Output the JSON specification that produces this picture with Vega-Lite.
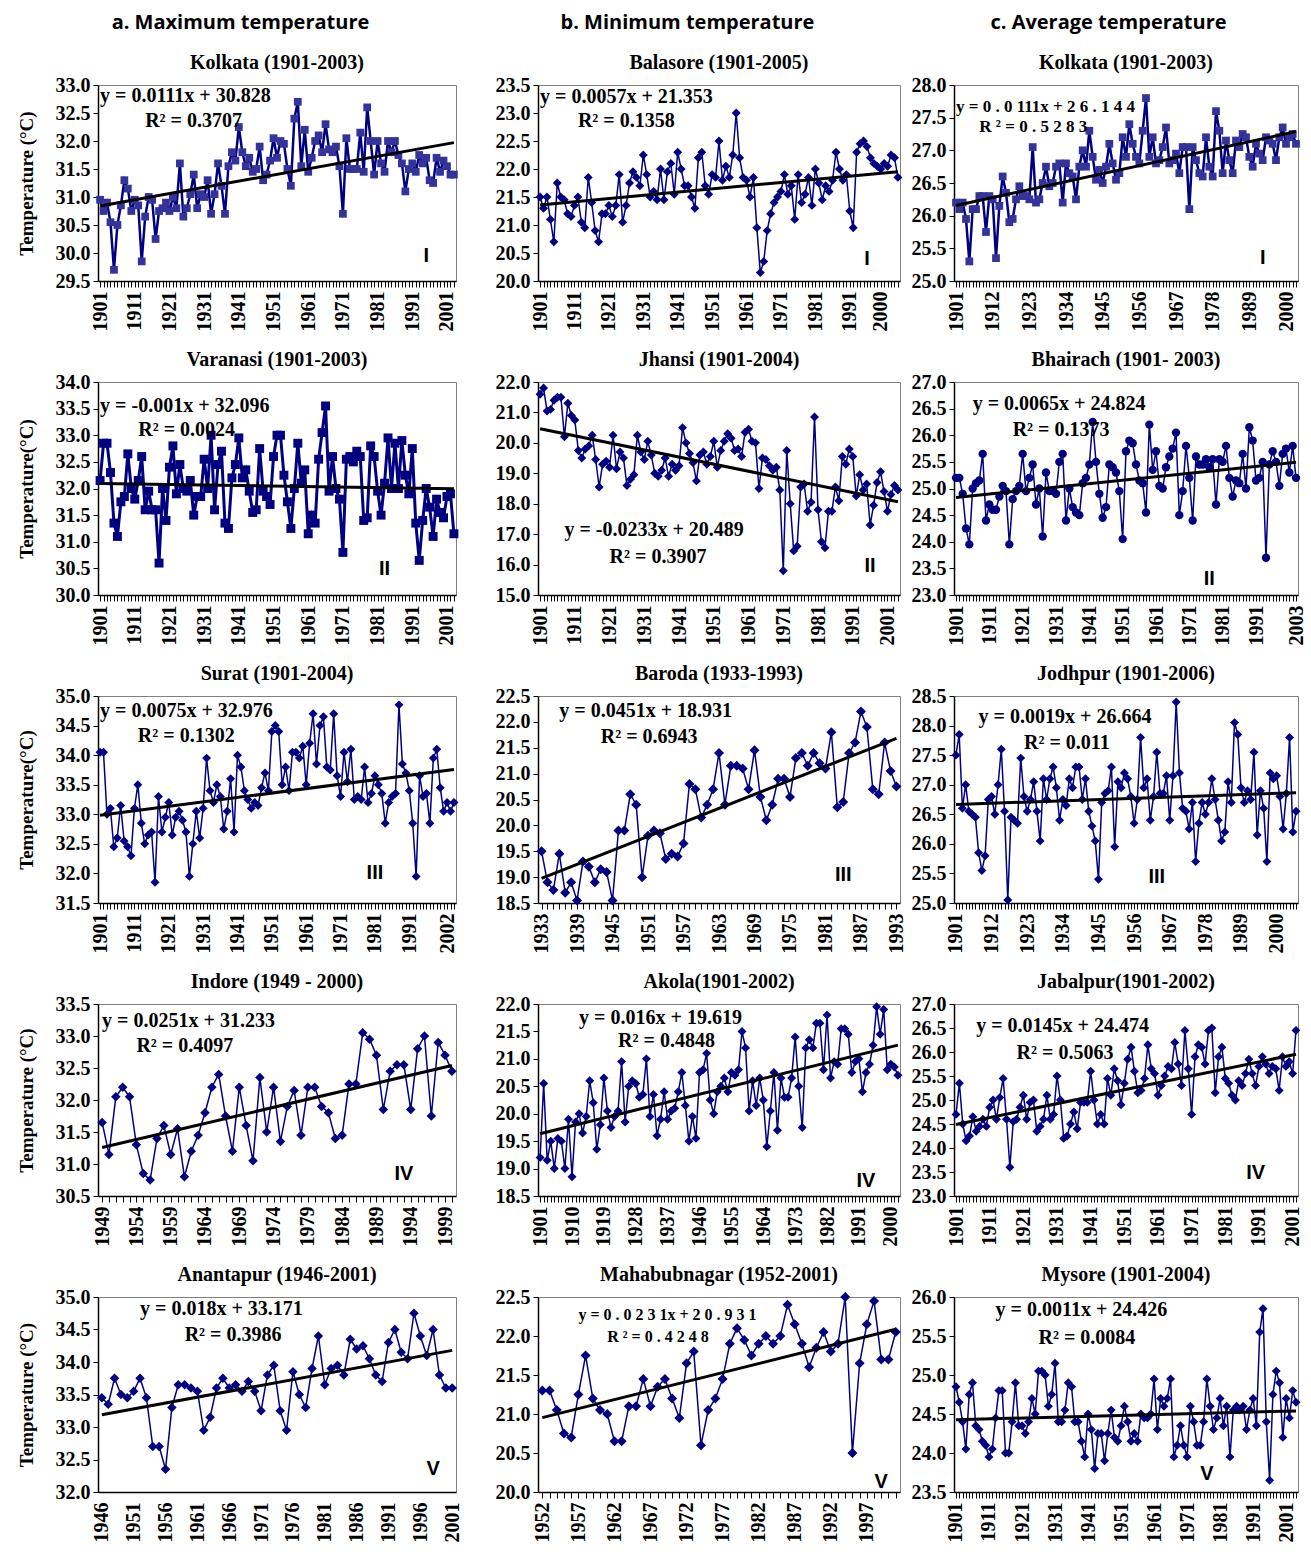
{
"$schema":"https://vega.github.io/schema/vega-lite/v6.json",
"background":"white",
"padding":{"left":16,"top":12,"right":2,"bottom":5},
"spacing":1,
"datasets":{
"A1":[{"x":1901,"v":30.95},{"x":1902,"v":30.75},{"x":1903,"v":30.9},{"x":1904,"v":30.55},{"x":1905,"v":29.7},{"x":1906,"v":30.5},{"x":1907,"v":30.85},{"x":1908,"v":31.3},{"x":1909,"v":31.15},{"x":1910,"v":30.75},
{"x":1911,"v":30.95},{"x":1912,"v":30.85},{"x":1913,"v":29.85},{"x":1914,"v":30.65},{"x":1915,"v":31.0},{"x":1916,"v":30.95},{"x":1917,"v":30.25},{"x":1918,"v":30.75},{"x":1919,"v":30.8},{"x":1920,"v":30.9},
{"x":1921,"v":30.75},{"x":1922,"v":31.0},{"x":1923,"v":30.8},{"x":1924,"v":31.6},{"x":1925,"v":30.65},{"x":1926,"v":30.8},{"x":1927,"v":31.05},{"x":1928,"v":31.4},{"x":1929,"v":30.8},{"x":1930,"v":31.05},
{"x":1931,"v":31.0},{"x":1932,"v":31.3},{"x":1933,"v":30.7},{"x":1934,"v":31.05},{"x":1935,"v":31.6},{"x":1936,"v":31.2},{"x":1937,"v":30.7},{"x":1938,"v":31.55},{"x":1939,"v":31.8},{"x":1940,"v":31.65},
{"x":1941,"v":32.25},{"x":1942,"v":31.8},{"x":1943,"v":31.55},{"x":1944,"v":31.7},{"x":1945,"v":31.45},{"x":1946,"v":31.5},{"x":1947,"v":31.9},{"x":1948,"v":31.3},{"x":1949,"v":31.4},{"x":1950,"v":31.65},
{"x":1951,"v":32.05},{"x":1952,"v":31.7},{"x":1953,"v":32.0},{"x":1954,"v":31.95},{"x":1955,"v":31.5},{"x":1956,"v":31.2},{"x":1957,"v":32.4},{"x":1958,"v":32.7},{"x":1959,"v":31.55},{"x":1960,"v":32.2},
{"x":1961,"v":31.45},{"x":1962,"v":31.7},{"x":1963,"v":32.0},{"x":1964,"v":32.1},{"x":1965,"v":31.8},{"x":1966,"v":32.3},{"x":1967,"v":31.85},{"x":1968,"v":31.8},{"x":1969,"v":31.9},{"x":1970,"v":31.55},
{"x":1971,"v":30.7},{"x":1972,"v":32.05},{"x":1973,"v":31.5},{"x":1974,"v":31.5},{"x":1975,"v":31.5},{"x":1976,"v":32.15},{"x":1977,"v":31.45},{"x":1978,"v":32.6},{"x":1979,"v":32.0},{"x":1980,"v":31.4},
{"x":1981,"v":32.0},{"x":1982,"v":31.6},{"x":1983,"v":31.45},{"x":1984,"v":32.0},{"x":1985,"v":31.8},{"x":1986,"v":32.0},{"x":1987,"v":31.75},{"x":1988,"v":31.6},{"x":1989,"v":31.1},{"x":1990,"v":31.5},
{"x":1991,"v":31.6},{"x":1992,"v":31.45},{"x":1993,"v":31.75},{"x":1994,"v":31.6},{"x":1995,"v":31.7},{"x":1996,"v":31.3},{"x":1997,"v":31.25},{"x":1998,"v":31.7},{"x":1999,"v":31.45},{"x":2000,"v":31.65},
{"x":2001,"v":31.55},{"x":2002,"v":31.4},{"x":2003,"v":31.4}],
"B1":[{"x":1901,"v":21.5},{"x":1902,"v":21.3},{"x":1903,"v":21.5},{"x":1904,"v":21.1},{"x":1905,"v":20.7},{"x":1906,"v":21.75},{"x":1907,"v":21.5},{"x":1908,"v":21.45},{"x":1909,"v":21.2},{"x":1910,"v":21.15},
{"x":1911,"v":21.35},{"x":1912,"v":21.5},{"x":1913,"v":21.05},{"x":1914,"v":20.95},{"x":1915,"v":21.85},{"x":1916,"v":21.4},{"x":1917,"v":20.9},{"x":1918,"v":20.7},{"x":1919,"v":21.2},{"x":1920,"v":21.2},
{"x":1921,"v":21.35},{"x":1922,"v":21.15},{"x":1923,"v":21.35},{"x":1924,"v":21.9},{"x":1925,"v":21.05},{"x":1926,"v":21.35},{"x":1927,"v":21.75},{"x":1928,"v":21.95},{"x":1929,"v":21.85},{"x":1930,"v":21.7},
{"x":1931,"v":22.25},{"x":1932,"v":21.9},{"x":1933,"v":21.5},{"x":1934,"v":21.6},{"x":1935,"v":21.45},{"x":1936,"v":22.0},{"x":1937,"v":21.45},{"x":1938,"v":21.95},{"x":1939,"v":22.1},{"x":1940,"v":21.55},
{"x":1941,"v":22.3},{"x":1942,"v":22.0},{"x":1943,"v":21.7},{"x":1944,"v":21.7},{"x":1945,"v":21.5},{"x":1946,"v":21.3},{"x":1947,"v":22.2},{"x":1948,"v":22.3},{"x":1949,"v":21.7},{"x":1950,"v":21.55},
{"x":1951,"v":21.9},{"x":1952,"v":21.85},{"x":1953,"v":22.5},{"x":1954,"v":21.8},{"x":1955,"v":22.05},{"x":1956,"v":21.85},{"x":1957,"v":22.25},{"x":1958,"v":23.0},{"x":1959,"v":22.2},{"x":1960,"v":21.85},
{"x":1961,"v":21.8},{"x":1962,"v":21.5},{"x":1963,"v":21.85},{"x":1964,"v":20.95},{"x":1965,"v":20.15},{"x":1966,"v":20.35},{"x":1967,"v":20.9},{"x":1968,"v":21.2},{"x":1969,"v":21.4},{"x":1970,"v":21.5},
{"x":1971,"v":21.6},{"x":1972,"v":21.9},{"x":1973,"v":21.55},{"x":1974,"v":21.7},{"x":1975,"v":21.1},{"x":1976,"v":21.9},{"x":1977,"v":21.4},{"x":1978,"v":21.55},{"x":1979,"v":21.85},{"x":1980,"v":21.35},
{"x":1981,"v":22.0},{"x":1982,"v":21.75},{"x":1983,"v":21.45},{"x":1984,"v":21.7},{"x":1985,"v":21.6},{"x":1986,"v":21.8},{"x":1987,"v":22.3},{"x":1988,"v":22.0},{"x":1989,"v":21.8},{"x":1990,"v":21.9},
{"x":1991,"v":21.25},{"x":1992,"v":20.95},{"x":1993,"v":22.3},{"x":1994,"v":22.45},{"x":1995,"v":22.5},{"x":1996,"v":22.4},{"x":1997,"v":22.2},{"x":1998,"v":22.1},{"x":1999,"v":22.05},{"x":2000,"v":22.0},
{"x":2001,"v":22.1},{"x":2002,"v":22.05},{"x":2003,"v":22.25},{"x":2004,"v":22.2},{"x":2005,"v":21.85}],
"C1":[{"x":1901,"v":26.2},{"x":1902,"v":26.1},{"x":1903,"v":26.2},{"x":1904,"v":25.95},{"x":1905,"v":25.3},{"x":1906,"v":26.1},{"x":1907,"v":26.1},{"x":1908,"v":26.3},{"x":1909,"v":26.3},{"x":1910,"v":25.75},
{"x":1911,"v":26.3},{"x":1912,"v":26.25},{"x":1913,"v":25.35},{"x":1914,"v":26.15},{"x":1915,"v":26.6},{"x":1916,"v":26.35},{"x":1917,"v":25.9},{"x":1918,"v":25.95},{"x":1919,"v":26.25},{"x":1920,"v":26.45},
{"x":1921,"v":26.3},{"x":1922,"v":26.3},{"x":1923,"v":26.25},{"x":1924,"v":27.05},{"x":1925,"v":26.2},{"x":1926,"v":26.25},{"x":1927,"v":26.5},{"x":1928,"v":26.75},{"x":1929,"v":26.45},{"x":1930,"v":26.5},
{"x":1931,"v":26.75},{"x":1932,"v":26.8},{"x":1933,"v":26.2},{"x":1934,"v":26.8},{"x":1935,"v":26.65},{"x":1936,"v":26.6},{"x":1937,"v":26.25},{"x":1938,"v":26.75},{"x":1939,"v":27.0},{"x":1940,"v":26.75},
{"x":1941,"v":27.3},{"x":1942,"v":26.9},{"x":1943,"v":26.55},{"x":1944,"v":26.7},{"x":1945,"v":26.5},{"x":1946,"v":26.75},{"x":1947,"v":27.1},{"x":1948,"v":26.8},{"x":1949,"v":26.55},{"x":1950,"v":26.65},
{"x":1951,"v":27.2},{"x":1952,"v":26.9},{"x":1953,"v":27.4},{"x":1954,"v":27.1},{"x":1955,"v":26.9},{"x":1956,"v":26.8},{"x":1957,"v":27.3},{"x":1958,"v":27.8},{"x":1959,"v":26.9},{"x":1960,"v":27.2},
{"x":1961,"v":26.8},{"x":1962,"v":26.85},{"x":1963,"v":27.05},{"x":1964,"v":27.35},{"x":1965,"v":26.8},{"x":1966,"v":26.85},{"x":1967,"v":26.95},{"x":1968,"v":26.65},{"x":1969,"v":27.05},{"x":1970,"v":27.05},
{"x":1971,"v":26.1},{"x":1972,"v":27.05},{"x":1973,"v":26.85},{"x":1974,"v":26.65},{"x":1975,"v":26.6},{"x":1976,"v":27.2},{"x":1977,"v":26.75},{"x":1978,"v":26.6},{"x":1979,"v":27.6},{"x":1980,"v":27.3},
{"x":1981,"v":26.65},{"x":1982,"v":27.15},{"x":1983,"v":26.85},{"x":1984,"v":26.65},{"x":1985,"v":27.15},{"x":1986,"v":27.05},{"x":1987,"v":27.25},{"x":1988,"v":27.2},{"x":1989,"v":26.9},{"x":1990,"v":26.75},
{"x":1991,"v":27.1},{"x":1992,"v":26.95},{"x":1993,"v":26.85},{"x":1994,"v":27.2},{"x":1995,"v":27.15},{"x":1996,"v":27.1},{"x":1997,"v":26.85},{"x":1998,"v":27.2},{"x":1999,"v":27.35},{"x":2000,"v":27.1},
{"x":2001,"v":27.2},{"x":2002,"v":27.25},{"x":2003,"v":27.1}],
"A2":[{"x":1901,"v":32.15},{"x":1902,"v":32.85},{"x":1903,"v":32.85},{"x":1904,"v":32.3},{"x":1905,"v":31.35},{"x":1906,"v":31.1},{"x":1907,"v":31.75},{"x":1908,"v":31.85},{"x":1909,"v":32.65},{"x":1910,"v":32.0},
{"x":1911,"v":31.8},{"x":1912,"v":32.15},{"x":1913,"v":32.6},{"x":1914,"v":31.6},{"x":1915,"v":31.95},{"x":1916,"v":31.6},{"x":1917,"v":31.6},{"x":1918,"v":30.6},{"x":1919,"v":32.0},{"x":1920,"v":31.4},
{"x":1921,"v":32.4},{"x":1922,"v":32.8},{"x":1923,"v":31.9},{"x":1924,"v":32.45},{"x":1925,"v":32.0},{"x":1926,"v":31.95},{"x":1927,"v":32.15},{"x":1928,"v":31.5},{"x":1929,"v":31.85},{"x":1930,"v":31.85},
{"x":1931,"v":32.55},{"x":1932,"v":32.0},{"x":1933,"v":33.0},{"x":1934,"v":31.6},{"x":1935,"v":32.45},{"x":1936,"v":32.7},{"x":1937,"v":31.35},{"x":1938,"v":31.25},{"x":1939,"v":32.2},{"x":1940,"v":32.45},
{"x":1941,"v":32.95},{"x":1942,"v":32.2},{"x":1943,"v":32.35},{"x":1944,"v":31.95},{"x":1945,"v":31.55},{"x":1946,"v":31.6},{"x":1947,"v":32.75},{"x":1948,"v":31.95},{"x":1949,"v":31.85},{"x":1950,"v":31.7},
{"x":1951,"v":32.6},{"x":1952,"v":33.0},{"x":1953,"v":33.0},{"x":1954,"v":32.25},{"x":1955,"v":31.75},{"x":1956,"v":31.25},{"x":1957,"v":32.0},{"x":1958,"v":32.85},{"x":1959,"v":32.1},{"x":1960,"v":32.35},
{"x":1961,"v":31.15},{"x":1962,"v":31.5},{"x":1963,"v":31.35},{"x":1964,"v":32.55},{"x":1965,"v":33.05},{"x":1966,"v":33.55},{"x":1967,"v":31.95},{"x":1968,"v":32.6},{"x":1969,"v":32.0},{"x":1970,"v":31.8},
{"x":1971,"v":30.8},{"x":1972,"v":32.55},{"x":1973,"v":32.6},{"x":1974,"v":32.5},{"x":1975,"v":32.7},{"x":1976,"v":32.6},{"x":1977,"v":31.4},{"x":1978,"v":31.45},{"x":1979,"v":32.8},{"x":1980,"v":32.6},
{"x":1981,"v":31.95},{"x":1982,"v":31.5},{"x":1983,"v":32.1},{"x":1984,"v":32.95},{"x":1985,"v":32.0},{"x":1986,"v":32.85},{"x":1987,"v":32.0},{"x":1988,"v":32.9},{"x":1989,"v":32.25},{"x":1990,"v":31.9},
{"x":1991,"v":32.75},{"x":1992,"v":31.35},{"x":1993,"v":30.65},{"x":1994,"v":31.4},{"x":1995,"v":32.0},{"x":1996,"v":31.65},{"x":1997,"v":31.1},{"x":1998,"v":31.8},{"x":1999,"v":31.55},{"x":2000,"v":31.45},
{"x":2001,"v":31.85},{"x":2002,"v":31.9},{"x":2003,"v":31.15}],
"B2":[{"x":1901,"v":21.6},{"x":1902,"v":21.8},{"x":1903,"v":21.05},{"x":1904,"v":21.1},{"x":1905,"v":21.4},{"x":1906,"v":21.5},{"x":1907,"v":21.5},{"x":1908,"v":20.2},{"x":1909,"v":21.3},{"x":1910,"v":20.9},
{"x":1911,"v":20.75},{"x":1912,"v":19.75},{"x":1913,"v":19.5},{"x":1914,"v":19.8},{"x":1915,"v":19.9},{"x":1916,"v":20.25},{"x":1917,"v":19.45},{"x":1918,"v":18.55},{"x":1919,"v":19.3},{"x":1920,"v":19.4},
{"x":1921,"v":19.2},{"x":1922,"v":20.25},{"x":1923,"v":19.15},{"x":1924,"v":19.7},{"x":1925,"v":19.5},{"x":1926,"v":18.6},{"x":1927,"v":18.8},{"x":1928,"v":18.95},{"x":1929,"v":20.25},{"x":1930,"v":19.7},
{"x":1931,"v":19.45},{"x":1932,"v":20.05},{"x":1933,"v":19.6},{"x":1934,"v":19.0},{"x":1935,"v":18.9},{"x":1936,"v":19.1},{"x":1937,"v":19.5},{"x":1938,"v":18.9},{"x":1939,"v":19.3},{"x":1940,"v":19.1},
{"x":1941,"v":19.25},{"x":1942,"v":20.5},{"x":1943,"v":20.0},{"x":1944,"v":19.65},{"x":1945,"v":19.35},{"x":1946,"v":18.75},{"x":1947,"v":19.6},{"x":1948,"v":19.7},{"x":1949,"v":19.3},{"x":1950,"v":19.55},
{"x":1951,"v":20.05},{"x":1952,"v":19.2},{"x":1953,"v":19.75},{"x":1954,"v":20.05},{"x":1955,"v":20.3},{"x":1956,"v":20.15},{"x":1957,"v":19.75},{"x":1958,"v":19.8},{"x":1959,"v":19.55},{"x":1960,"v":20.35},
{"x":1961,"v":20.45},{"x":1962,"v":20.05},{"x":1963,"v":20.0},{"x":1964,"v":18.5},{"x":1965,"v":19.5},{"x":1966,"v":19.45},{"x":1967,"v":19.25},{"x":1968,"v":19.1},{"x":1969,"v":19.2},{"x":1970,"v":18.45},
{"x":1971,"v":15.8},{"x":1972,"v":19.75},{"x":1973,"v":18.0},{"x":1974,"v":16.45},{"x":1975,"v":16.6},{"x":1976,"v":18.55},{"x":1977,"v":18.65},{"x":1978,"v":17.75},{"x":1979,"v":18.05},{"x":1980,"v":20.85},
{"x":1981,"v":17.8},{"x":1982,"v":16.75},{"x":1983,"v":16.55},{"x":1984,"v":17.75},{"x":1985,"v":17.75},{"x":1986,"v":18.55},{"x":1987,"v":18.1},{"x":1988,"v":19.55},{"x":1989,"v":19.3},{"x":1990,"v":19.8},
{"x":1991,"v":19.55},{"x":1992,"v":18.25},{"x":1993,"v":18.95},{"x":1994,"v":18.45},{"x":1995,"v":18.65},{"x":1996,"v":17.3},{"x":1997,"v":17.95},{"x":1998,"v":18.7},{"x":1999,"v":19.05},{"x":2000,"v":18.4},
{"x":2001,"v":17.75},{"x":2002,"v":18.3},{"x":2003,"v":18.6},{"x":2004,"v":18.45}],
"C2":[{"x":1901,"v":25.2},{"x":1902,"v":25.2},{"x":1903,"v":24.9},{"x":1904,"v":24.25},{"x":1905,"v":23.95},{"x":1906,"v":25.0},{"x":1907,"v":25.1},{"x":1908,"v":25.15},{"x":1909,"v":25.65},{"x":1910,"v":24.4},
{"x":1911,"v":24.7},{"x":1912,"v":24.6},{"x":1913,"v":24.6},{"x":1914,"v":24.85},{"x":1915,"v":25.05},{"x":1916,"v":24.95},{"x":1917,"v":23.95},{"x":1918,"v":24.8},{"x":1919,"v":24.95},{"x":1920,"v":25.05},
{"x":1921,"v":25.65},{"x":1922,"v":24.95},{"x":1923,"v":25.2},{"x":1924,"v":25.45},{"x":1925,"v":24.7},{"x":1926,"v":25.0},{"x":1927,"v":24.1},{"x":1928,"v":25.3},{"x":1929,"v":24.95},{"x":1930,"v":24.95},
{"x":1931,"v":24.9},{"x":1932,"v":25.5},{"x":1933,"v":25.65},{"x":1934,"v":24.4},{"x":1935,"v":25.0},{"x":1936,"v":24.65},{"x":1937,"v":24.55},{"x":1938,"v":24.5},{"x":1939,"v":25.1},{"x":1940,"v":25.2},
{"x":1941,"v":25.45},{"x":1942,"v":26.25},{"x":1943,"v":25.5},{"x":1944,"v":24.9},{"x":1945,"v":24.45},{"x":1946,"v":24.65},{"x":1947,"v":25.45},{"x":1948,"v":25.4},{"x":1949,"v":25.3},{"x":1950,"v":24.95},
{"x":1951,"v":24.05},{"x":1952,"v":25.7},{"x":1953,"v":25.9},{"x":1954,"v":25.85},{"x":1955,"v":25.45},{"x":1956,"v":25.15},{"x":1957,"v":25.1},{"x":1958,"v":24.55},{"x":1959,"v":26.2},{"x":1960,"v":25.35},
{"x":1961,"v":25.7},{"x":1962,"v":25.05},{"x":1963,"v":25.0},{"x":1964,"v":25.4},{"x":1965,"v":25.6},{"x":1966,"v":25.75},{"x":1967,"v":26.05},{"x":1968,"v":24.5},{"x":1969,"v":24.95},{"x":1970,"v":25.8},
{"x":1971,"v":25.2},{"x":1972,"v":24.4},{"x":1973,"v":25.6},{"x":1974,"v":25.45},{"x":1975,"v":25.45},{"x":1976,"v":25.55},{"x":1977,"v":25.4},{"x":1978,"v":25.55},{"x":1979,"v":24.7},{"x":1980,"v":25.55},
{"x":1981,"v":25.5},{"x":1982,"v":25.8},{"x":1983,"v":25.2},{"x":1984,"v":24.85},{"x":1985,"v":25.15},{"x":1986,"v":25.1},{"x":1987,"v":25.65},{"x":1988,"v":25.0},{"x":1989,"v":26.15},{"x":1990,"v":25.9},
{"x":1991,"v":25.15},{"x":1992,"v":25.2},{"x":1993,"v":25.5},{"x":1994,"v":23.7},{"x":1995,"v":25.45},{"x":1996,"v":25.7},{"x":1997,"v":25.5},{"x":1998,"v":25.05},{"x":1999,"v":25.65},{"x":2000,"v":25.75},
{"x":2001,"v":25.3},{"x":2002,"v":25.8},{"x":2003,"v":25.2}],
"A3":[{"x":1901,"v":34.05},{"x":1902,"v":34.05},{"x":1903,"v":33.0},{"x":1904,"v":33.1},{"x":1905,"v":32.45},{"x":1906,"v":32.6},{"x":1907,"v":33.15},{"x":1908,"v":32.55},{"x":1909,"v":32.45},{"x":1910,"v":32.3},
{"x":1911,"v":33.1},{"x":1912,"v":33.5},{"x":1913,"v":32.85},{"x":1914,"v":32.5},{"x":1915,"v":32.65},{"x":1916,"v":32.7},{"x":1917,"v":31.85},{"x":1918,"v":33.3},{"x":1919,"v":32.7},{"x":1920,"v":32.95},
{"x":1921,"v":33.2},{"x":1922,"v":32.65},{"x":1923,"v":32.95},{"x":1924,"v":33.05},{"x":1925,"v":32.9},{"x":1926,"v":32.7},{"x":1927,"v":31.95},{"x":1928,"v":32.5},{"x":1929,"v":33.05},{"x":1930,"v":32.6},
{"x":1931,"v":33.1},{"x":1932,"v":33.95},{"x":1933,"v":33.4},{"x":1934,"v":33.2},{"x":1935,"v":33.5},{"x":1936,"v":33.3},{"x":1937,"v":32.75},{"x":1938,"v":33.05},{"x":1939,"v":33.6},{"x":1940,"v":32.7},
{"x":1941,"v":34.0},{"x":1942,"v":33.8},{"x":1943,"v":33.4},{"x":1944,"v":33.25},{"x":1945,"v":33.1},{"x":1946,"v":33.2},{"x":1947,"v":33.15},{"x":1948,"v":33.45},{"x":1949,"v":33.7},{"x":1950,"v":33.4},
{"x":1951,"v":34.4},{"x":1952,"v":34.5},{"x":1953,"v":34.4},{"x":1954,"v":33.5},{"x":1955,"v":33.8},{"x":1956,"v":33.4},{"x":1957,"v":34.05},{"x":1958,"v":34.05},{"x":1959,"v":33.95},{"x":1960,"v":34.15},
{"x":1961,"v":33.5},{"x":1962,"v":34.2},{"x":1963,"v":34.7},{"x":1964,"v":33.85},{"x":1965,"v":34.5},{"x":1966,"v":34.65},{"x":1967,"v":33.8},{"x":1968,"v":33.75},{"x":1969,"v":34.7},{"x":1970,"v":33.65},
{"x":1971,"v":33.3},{"x":1972,"v":34.05},{"x":1973,"v":33.55},{"x":1974,"v":34.1},{"x":1975,"v":33.25},{"x":1976,"v":33.3},{"x":1977,"v":33.25},{"x":1978,"v":33.8},{"x":1979,"v":33.2},{"x":1980,"v":33.35},
{"x":1981,"v":33.65},{"x":1982,"v":33.5},{"x":1983,"v":33.35},{"x":1984,"v":32.85},{"x":1985,"v":33.2},{"x":1986,"v":33.3},{"x":1987,"v":33.35},{"x":1988,"v":34.85},{"x":1989,"v":33.85},{"x":1990,"v":33.7},
{"x":1991,"v":33.4},{"x":1992,"v":32.85},{"x":1993,"v":31.95},{"x":1994,"v":33.65},{"x":1995,"v":33.3},{"x":1996,"v":33.35},{"x":1997,"v":32.85},{"x":1998,"v":33.95},{"x":1999,"v":34.1},{"x":2000,"v":33.45},
{"x":2001,"v":33.05},{"x":2002,"v":33.2},{"x":2003,"v":33.05},{"x":2004,"v":33.2}],
"B3":[{"x":1933,"v":19.5},{"x":1934,"v":18.9},{"x":1935,"v":18.75},{"x":1936,"v":19.45},{"x":1937,"v":18.7},{"x":1938,"v":18.9},{"x":1939,"v":18.55},{"x":1940,"v":19.3},{"x":1941,"v":19.2},{"x":1942,"v":18.9},
{"x":1943,"v":19.15},{"x":1944,"v":19.1},{"x":1945,"v":18.55},{"x":1946,"v":19.9},{"x":1947,"v":19.9},{"x":1948,"v":20.6},{"x":1949,"v":20.4},{"x":1950,"v":19.0},{"x":1951,"v":19.8},{"x":1952,"v":19.9},
{"x":1953,"v":19.85},{"x":1954,"v":19.35},{"x":1955,"v":19.45},{"x":1956,"v":19.4},{"x":1957,"v":19.65},{"x":1958,"v":20.8},{"x":1959,"v":20.7},{"x":1960,"v":20.15},{"x":1961,"v":20.4},{"x":1962,"v":20.7},
{"x":1963,"v":21.4},{"x":1964,"v":20.4},{"x":1965,"v":21.15},{"x":1966,"v":21.15},{"x":1967,"v":21.1},{"x":1968,"v":20.7},{"x":1969,"v":21.45},{"x":1970,"v":20.55},{"x":1971,"v":20.1},{"x":1972,"v":20.4},
{"x":1973,"v":20.9},{"x":1974,"v":20.9},{"x":1975,"v":20.55},{"x":1976,"v":21.3},{"x":1977,"v":21.4},{"x":1978,"v":21.15},{"x":1979,"v":21.4},{"x":1980,"v":21.2},{"x":1981,"v":21.1},{"x":1982,"v":21.8},
{"x":1983,"v":20.35},{"x":1984,"v":20.45},{"x":1985,"v":21.4},{"x":1986,"v":21.6},{"x":1987,"v":22.2},{"x":1988,"v":21.9},{"x":1989,"v":20.7},{"x":1990,"v":20.6},{"x":1991,"v":21.6},{"x":1992,"v":21.05},{"x":1993,"v":20.75}],
"C3":[{"x":1901,"v":27.5},{"x":1902,"v":27.85},{"x":1903,"v":26.6},{"x":1904,"v":27.0},{"x":1905,"v":26.55},{"x":1906,"v":26.5},{"x":1907,"v":26.45},{"x":1908,"v":25.85},{"x":1909,"v":25.55},{"x":1910,"v":25.8},
{"x":1911,"v":26.75},{"x":1912,"v":26.8},{"x":1913,"v":26.5},{"x":1914,"v":27.0},{"x":1915,"v":27.6},{"x":1916,"v":26.55},{"x":1917,"v":25.05},{"x":1918,"v":26.45},{"x":1919,"v":26.4},{"x":1920,"v":26.35},
{"x":1921,"v":27.45},{"x":1922,"v":26.8},{"x":1923,"v":26.55},{"x":1924,"v":26.75},{"x":1925,"v":27.05},{"x":1926,"v":26.55},{"x":1927,"v":26.05},{"x":1928,"v":27.1},{"x":1929,"v":26.75},{"x":1930,"v":27.1},
{"x":1931,"v":27.3},{"x":1932,"v":26.95},{"x":1933,"v":26.4},{"x":1934,"v":26.75},{"x":1935,"v":26.65},{"x":1936,"v":27.1},{"x":1937,"v":26.95},{"x":1938,"v":27.3},{"x":1939,"v":27.3},{"x":1940,"v":26.75},
{"x":1941,"v":27.1},{"x":1942,"v":26.55},{"x":1943,"v":26.3},{"x":1944,"v":26.05},{"x":1945,"v":25.4},{"x":1946,"v":26.7},{"x":1947,"v":26.85},{"x":1948,"v":26.9},{"x":1949,"v":27.3},{"x":1950,"v":25.95},
{"x":1951,"v":27.05},{"x":1952,"v":26.95},{"x":1953,"v":27.2},{"x":1954,"v":27.1},{"x":1955,"v":26.8},{"x":1956,"v":26.35},{"x":1957,"v":26.75},{"x":1958,"v":27.8},{"x":1959,"v":26.95},{"x":1960,"v":27.1},
{"x":1961,"v":26.4},{"x":1962,"v":26.8},{"x":1963,"v":27.55},{"x":1964,"v":26.85},{"x":1965,"v":26.85},{"x":1966,"v":27.15},{"x":1967,"v":26.4},{"x":1968,"v":27.15},{"x":1969,"v":28.4},{"x":1970,"v":27.2},
{"x":1971,"v":26.6},{"x":1972,"v":26.55},{"x":1973,"v":26.25},{"x":1974,"v":26.7},{"x":1975,"v":25.7},{"x":1976,"v":26.35},{"x":1977,"v":26.7},{"x":1978,"v":26.5},{"x":1979,"v":26.7},{"x":1980,"v":27.1},
{"x":1981,"v":26.75},{"x":1982,"v":26.4},{"x":1983,"v":26.05},{"x":1984,"v":26.2},{"x":1985,"v":27.05},{"x":1986,"v":26.7},{"x":1987,"v":28.05},{"x":1988,"v":27.85},{"x":1989,"v":26.95},{"x":1990,"v":26.7},
{"x":1991,"v":26.9},{"x":1992,"v":26.75},{"x":1993,"v":27.55},{"x":1994,"v":26.15},{"x":1995,"v":26.9},{"x":1996,"v":26.6},{"x":1997,"v":25.7},{"x":1998,"v":27.2},{"x":1999,"v":27.1},{"x":2000,"v":27.15},
{"x":2001,"v":26.8},{"x":2002,"v":26.25},{"x":2003,"v":26.85},{"x":2004,"v":27.8},{"x":2005,"v":26.2},{"x":2006,"v":26.55}],
"A4":[{"x":1949,"v":31.65},{"x":1950,"v":31.15},{"x":1951,"v":32.05},{"x":1952,"v":32.2},{"x":1953,"v":32.05},{"x":1954,"v":31.3},{"x":1955,"v":30.85},{"x":1956,"v":30.75},{"x":1957,"v":31.4},{"x":1958,"v":31.6},
{"x":1959,"v":31.15},{"x":1960,"v":31.55},{"x":1961,"v":30.8},{"x":1962,"v":31.2},{"x":1963,"v":31.45},{"x":1964,"v":31.8},{"x":1965,"v":32.2},{"x":1966,"v":32.4},{"x":1967,"v":31.75},{"x":1968,"v":31.2},
{"x":1969,"v":32.2},{"x":1970,"v":31.6},{"x":1971,"v":31.05},{"x":1972,"v":32.35},{"x":1973,"v":31.5},{"x":1974,"v":32.2},{"x":1975,"v":31.35},{"x":1976,"v":31.9},{"x":1977,"v":32.15},{"x":1978,"v":31.45},
{"x":1979,"v":32.2},{"x":1980,"v":32.2},{"x":1981,"v":31.9},{"x":1982,"v":31.8},{"x":1983,"v":31.4},{"x":1984,"v":31.45},{"x":1985,"v":32.25},{"x":1986,"v":32.25},{"x":1987,"v":33.05},{"x":1988,"v":32.95},
{"x":1989,"v":32.7},{"x":1990,"v":31.85},{"x":1991,"v":32.45},{"x":1992,"v":32.55},{"x":1993,"v":32.55},{"x":1994,"v":31.85},{"x":1995,"v":32.8},{"x":1996,"v":33.0},{"x":1997,"v":31.75},{"x":1998,"v":32.9},
{"x":1999,"v":32.7},{"x":2000,"v":32.45}],
"B4":[{"x":1901,"v":19.2},{"x":1902,"v":20.55},{"x":1903,"v":19.15},{"x":1904,"v":19.5},{"x":1905,"v":19.0},{"x":1906,"v":19.55},{"x":1907,"v":19.5},{"x":1908,"v":19.0},{"x":1909,"v":19.9},{"x":1910,"v":18.85},
{"x":1911,"v":19.85},{"x":1912,"v":20.0},{"x":1913,"v":19.65},{"x":1914,"v":19.95},{"x":1915,"v":20.6},{"x":1916,"v":20.2},{"x":1917,"v":19.35},{"x":1918,"v":19.8},{"x":1919,"v":20.65},{"x":1920,"v":20.05},
{"x":1921,"v":19.75},{"x":1922,"v":19.95},{"x":1923,"v":20.05},{"x":1924,"v":20.95},{"x":1925,"v":19.85},{"x":1926,"v":20.5},{"x":1927,"v":20.6},{"x":1928,"v":20.55},{"x":1929,"v":20.3},{"x":1930,"v":20.35},
{"x":1931,"v":21.0},{"x":1932,"v":19.95},{"x":1933,"v":20.35},{"x":1934,"v":19.6},{"x":1935,"v":19.9},{"x":1936,"v":20.4},{"x":1937,"v":19.9},{"x":1938,"v":20.05},{"x":1939,"v":20.1},{"x":1940,"v":20.4},
{"x":1941,"v":20.75},{"x":1942,"v":20.15},{"x":1943,"v":19.5},{"x":1944,"v":19.95},{"x":1945,"v":19.55},{"x":1946,"v":20.75},{"x":1947,"v":20.8},{"x":1948,"v":21.1},{"x":1949,"v":20.25},{"x":1950,"v":20.0},
{"x":1951,"v":20.4},{"x":1952,"v":20.5},{"x":1953,"v":20.65},{"x":1954,"v":20.4},{"x":1955,"v":20.75},{"x":1956,"v":20.7},{"x":1957,"v":20.8},{"x":1958,"v":21.5},{"x":1959,"v":21.2},{"x":1960,"v":20.05},
{"x":1961,"v":20.6},{"x":1962,"v":20.15},{"x":1963,"v":20.65},{"x":1964,"v":20.25},{"x":1965,"v":19.4},{"x":1966,"v":20.05},{"x":1967,"v":20.75},{"x":1968,"v":19.7},{"x":1969,"v":20.65},{"x":1970,"v":20.3},
{"x":1971,"v":20.3},{"x":1972,"v":20.65},{"x":1973,"v":21.4},{"x":1974,"v":20.5},{"x":1975,"v":19.75},{"x":1976,"v":21.2},{"x":1977,"v":21.35},{"x":1978,"v":21.2},{"x":1979,"v":21.65},{"x":1980,"v":21.65},
{"x":1981,"v":20.8},{"x":1982,"v":21.8},{"x":1983,"v":20.65},{"x":1984,"v":20.95},{"x":1985,"v":20.9},{"x":1986,"v":21.55},{"x":1987,"v":21.55},{"x":1988,"v":21.45},{"x":1989,"v":20.75},{"x":1990,"v":20.95},
{"x":1991,"v":21.0},{"x":1992,"v":20.4},{"x":1993,"v":20.75},{"x":1994,"v":20.9},{"x":1995,"v":21.25},{"x":1996,"v":21.95},{"x":1997,"v":21.45},{"x":1998,"v":21.9},{"x":1999,"v":20.8},{"x":2000,"v":20.9},
{"x":2001,"v":20.85},{"x":2002,"v":20.7}],
"C4":[{"x":1901,"v":24.7},{"x":1902,"v":25.35},{"x":1903,"v":24.5},{"x":1904,"v":24.15},{"x":1905,"v":24.25},{"x":1906,"v":24.65},{"x":1907,"v":24.35},{"x":1908,"v":24.45},{"x":1909,"v":24.6},{"x":1910,"v":24.45},
{"x":1911,"v":24.85},{"x":1912,"v":25.0},{"x":1913,"v":24.6},{"x":1914,"v":25.05},{"x":1915,"v":25.45},{"x":1916,"v":24.6},{"x":1917,"v":23.6},{"x":1918,"v":24.55},{"x":1919,"v":24.6},{"x":1920,"v":24.85},
{"x":1921,"v":25.1},{"x":1922,"v":24.6},{"x":1923,"v":24.95},{"x":1924,"v":25.0},{"x":1925,"v":24.35},{"x":1926,"v":24.45},{"x":1927,"v":24.6},{"x":1928,"v":25.1},{"x":1929,"v":24.6},{"x":1930,"v":24.7},
{"x":1931,"v":25.5},{"x":1932,"v":25.0},{"x":1933,"v":24.2},{"x":1934,"v":24.25},{"x":1935,"v":24.5},{"x":1936,"v":24.75},{"x":1937,"v":24.4},{"x":1938,"v":24.95},{"x":1939,"v":24.95},{"x":1940,"v":24.95},
{"x":1941,"v":25.6},{"x":1942,"v":25.0},{"x":1943,"v":24.5},{"x":1944,"v":24.7},{"x":1945,"v":24.5},{"x":1946,"v":25.45},{"x":1947,"v":25.1},{"x":1948,"v":25.65},{"x":1949,"v":25.4},{"x":1950,"v":24.9},
{"x":1951,"v":25.35},{"x":1952,"v":25.85},{"x":1953,"v":26.1},{"x":1954,"v":25.6},{"x":1955,"v":25.15},{"x":1956,"v":25.2},{"x":1957,"v":25.45},{"x":1958,"v":26.15},{"x":1959,"v":25.65},{"x":1960,"v":25.55},
{"x":1961,"v":25.1},{"x":1962,"v":25.3},{"x":1963,"v":25.5},{"x":1964,"v":25.7},{"x":1965,"v":25.65},{"x":1966,"v":26.2},{"x":1967,"v":25.75},{"x":1968,"v":25.3},{"x":1969,"v":26.45},{"x":1970,"v":25.65},
{"x":1971,"v":24.7},{"x":1972,"v":25.9},{"x":1973,"v":26.15},{"x":1974,"v":26.1},{"x":1975,"v":25.75},{"x":1976,"v":26.45},{"x":1977,"v":26.5},{"x":1978,"v":25.15},{"x":1979,"v":25.9},{"x":1980,"v":26.1},
{"x":1981,"v":25.45},{"x":1982,"v":25.35},{"x":1983,"v":25.1},{"x":1984,"v":25.0},{"x":1985,"v":25.4},{"x":1986,"v":25.3},{"x":1987,"v":25.55},{"x":1988,"v":25.85},{"x":1989,"v":25.55},{"x":1990,"v":25.3},
{"x":1991,"v":25.7},{"x":1992,"v":25.9},{"x":1993,"v":25.75},{"x":1994,"v":25.55},{"x":1995,"v":25.7},{"x":1996,"v":25.65},{"x":1997,"v":25.2},{"x":1998,"v":25.9},{"x":1999,"v":25.7},{"x":2000,"v":25.8},
{"x":2001,"v":25.55},{"x":2002,"v":26.45}],
"A5":[{"x":1946,"v":33.45},{"x":1947,"v":33.35},{"x":1948,"v":33.75},{"x":1949,"v":33.5},{"x":1950,"v":33.45},{"x":1951,"v":33.55},{"x":1952,"v":33.75},{"x":1953,"v":33.45},{"x":1954,"v":32.7},{"x":1955,"v":32.7},{"x":1956,"v":32.35},
{"x":1957,"v":33.3},{"x":1958,"v":33.65},{"x":1959,"v":33.65},{"x":1960,"v":33.6},{"x":1961,"v":33.55},{"x":1962,"v":32.95},{"x":1963,"v":33.15},{"x":1964,"v":33.6},{"x":1965,"v":33.75},{"x":1966,"v":33.6},
{"x":1967,"v":33.65},{"x":1968,"v":33.55},{"x":1969,"v":33.7},{"x":1970,"v":33.55},{"x":1971,"v":33.25},{"x":1972,"v":33.8},{"x":1973,"v":33.95},{"x":1974,"v":33.25},{"x":1975,"v":32.95},{"x":1976,"v":33.85},
{"x":1977,"v":33.5},{"x":1978,"v":33.3},{"x":1979,"v":33.9},{"x":1980,"v":34.4},{"x":1981,"v":33.65},{"x":1982,"v":33.9},{"x":1983,"v":33.95},{"x":1984,"v":33.8},{"x":1985,"v":34.35},{"x":1986,"v":34.2},
{"x":1987,"v":34.25},{"x":1988,"v":34.05},{"x":1989,"v":33.8},{"x":1990,"v":33.7},{"x":1991,"v":34.3},{"x":1992,"v":34.5},{"x":1993,"v":34.15},{"x":1994,"v":34.05},
{"x":1995,"v":34.75},{"x":1996,"v":34.4},{"x":1997,"v":34.1},{"x":1998,"v":34.5},{"x":1999,"v":33.8},{"x":2000,"v":33.6},{"x":2001,"v":33.6}],
"B5":[{"x":1952,"v":21.3},{"x":1953,"v":21.3},{"x":1954,"v":21.05},{"x":1955,"v":20.75},{"x":1956,"v":20.7},{"x":1957,"v":21.25},{"x":1958,"v":21.75},{"x":1959,"v":21.2},{"x":1960,"v":21.05},{"x":1961,"v":21.0},
{"x":1962,"v":20.65},{"x":1963,"v":20.65},{"x":1964,"v":21.1},{"x":1965,"v":21.1},{"x":1966,"v":21.45},{"x":1967,"v":21.1},{"x":1968,"v":21.35},{"x":1969,"v":21.45},{"x":1970,"v":21.2},{"x":1971,"v":20.95},
{"x":1972,"v":21.65},{"x":1973,"v":21.8},{"x":1974,"v":20.6},{"x":1975,"v":21.05},{"x":1976,"v":21.2},{"x":1977,"v":21.45},{"x":1978,"v":21.9},{"x":1979,"v":22.1},{"x":1980,"v":21.95},{"x":1981,"v":21.75},
{"x":1982,"v":21.9},{"x":1983,"v":22.0},{"x":1984,"v":21.9},{"x":1985,"v":22.0},{"x":1986,"v":22.4},{"x":1987,"v":22.15},{"x":1988,"v":21.9},{"x":1989,"v":21.6},{"x":1990,"v":21.85},{"x":1991,"v":22.05},
{"x":1992,"v":21.8},{"x":1993,"v":21.9},{"x":1994,"v":22.5},{"x":1995,"v":20.5},{"x":1996,"v":21.65},{"x":1997,"v":22.15},{"x":1998,"v":22.45},{"x":1999,"v":21.7},{"x":2000,"v":21.7},{"x":2001,"v":22.05}],
"C5":[{"x":1901,"v":24.85},{"x":1902,"v":24.65},{"x":1903,"v":24.4},{"x":1904,"v":24.05},{"x":1905,"v":24.75},{"x":1906,"v":24.9},{"x":1907,"v":24.35},{"x":1908,"v":24.3},{"x":1909,"v":24.15},{"x":1910,"v":24.1},
{"x":1911,"v":23.95},{"x":1912,"v":24.05},{"x":1913,"v":24.45},{"x":1914,"v":24.8},{"x":1915,"v":24.8},{"x":1916,"v":24.0},{"x":1917,"v":24.0},{"x":1918,"v":24.4},{"x":1919,"v":24.9},{"x":1920,"v":24.35},
{"x":1921,"v":24.35},{"x":1922,"v":24.25},{"x":1923,"v":24.4},{"x":1924,"v":24.7},{"x":1925,"v":24.5},{"x":1926,"v":25.05},{"x":1927,"v":25.05},{"x":1928,"v":25.0},{"x":1929,"v":24.6},{"x":1930,"v":24.75},
{"x":1931,"v":25.15},{"x":1932,"v":24.4},{"x":1933,"v":24.4},{"x":1934,"v":24.55},{"x":1935,"v":24.9},{"x":1936,"v":24.85},{"x":1937,"v":24.4},{"x":1938,"v":24.4},{"x":1939,"v":24.15},{"x":1940,"v":23.95},
{"x":1941,"v":24.5},{"x":1942,"v":24.3},{"x":1943,"v":23.8},{"x":1944,"v":24.25},{"x":1945,"v":24.25},{"x":1946,"v":23.9},{"x":1947,"v":24.25},{"x":1948,"v":24.55},{"x":1949,"v":24.2},{"x":1950,"v":24.15},
{"x":1951,"v":24.35},{"x":1952,"v":24.6},{"x":1953,"v":24.4},{"x":1954,"v":24.15},{"x":1955,"v":24.25},{"x":1956,"v":24.15},{"x":1957,"v":24.5},{"x":1958,"v":24.45},{"x":1959,"v":24.45},{"x":1960,"v":24.5},
{"x":1961,"v":24.95},{"x":1962,"v":24.3},{"x":1963,"v":24.7},{"x":1964,"v":24.6},{"x":1965,"v":24.7},{"x":1966,"v":24.95},{"x":1967,"v":23.95},{"x":1968,"v":24.1},{"x":1969,"v":24.35},{"x":1970,"v":24.1},
{"x":1971,"v":23.95},{"x":1972,"v":24.6},{"x":1973,"v":24.4},{"x":1974,"v":24.1},{"x":1975,"v":24.1},{"x":1976,"v":24.4},{"x":1977,"v":24.95},{"x":1978,"v":24.6},{"x":1979,"v":24.3},{"x":1980,"v":24.45},
{"x":1981,"v":24.7},{"x":1982,"v":24.35},{"x":1983,"v":24.6},{"x":1984,"v":23.95},{"x":1985,"v":24.55},{"x":1986,"v":24.6},{"x":1987,"v":24.55},{"x":1988,"v":24.6},{"x":1989,"v":24.3},{"x":1990,"v":24.55},
{"x":1991,"v":24.7},{"x":1992,"v":24.35},{"x":1993,"v":25.55},{"x":1994,"v":25.85},{"x":1995,"v":24.4},{"x":1996,"v":23.65},{"x":1997,"v":24.75},{"x":1998,"v":25.05},{"x":1999,"v":24.9},{"x":2000,"v":24.2},
{"x":2001,"v":24.7},{"x":2002,"v":24.45},{"x":2003,"v":24.8},{"x":2004,"v":24.65}]
},
"hconcat":[
{"title":{"text":"a. Maximum temperature","font":"Open Sans","fontSize":20,"fontWeight":"bold","offset":20,"anchor":"middle"},
 "spacing":17,
 "vconcat":[
 {"width":358,"height":196,"title":"Kolkata (1901-2003)","data":{"name":"A1"},
  "encoding":{"x":{"field":"x","type":"ordinal","scale":{"type":"point","padding":0.6},"axis":{"title":null,"labelExpr":"indexof([1901,1911,1921,1931,1941,1951,1961,1971,1981,1991,2001],datum.value)>=0?datum.label:''"}},
   "y":{"field":"v","type":"quantitative","scale":{"domain":[29.5,33],"nice":false,"zero":false},"axis":{"title":"Temperature (°C)","values":[29.5,30,30.5,31,31.5,32,32.5,33],"format":".1f","titlePadding":14,"minExtent":48}}},
  "layer":[
   {"mark":{"type":"line","color":"#000080","strokeWidth":2.5},"encoding":{}},
   {"mark":{"type":"point","shape":"square","filled":true,"color":"#333399","opacity":1,"size":60}},
   {"data":{"values":[{"x":1901,"v":30.839},{"x":2003,"v":31.971}]},"mark":{"type":"line","color":"#000000","strokeWidth":3},"encoding":{}},
   {"data":{"values":[{"x":1901,"v":32.8,"t":"y = 0.0111x + 30.828"},{"x":1914,"v":32.36,"t":"R² = 0.3707"}]},"mark":{"type":"text","align":"left","baseline":"middle","font":"Liberation Serif","fontWeight":"bold","fontSize":20,"color":"#000000"},"encoding":{"text":{"field":"t"}}},
   {"data":{"values":[{"x":1995,"v":29.95,"t":"I"}]},"mark":{"type":"text","align":"center","baseline":"middle","font":"Liberation Sans","fontWeight":"bold","fontSize":20,"color":"#000000"},"encoding":{"text":{"field":"t"}}}
  ]},
 {"width":358,"height":213,"title":"Varanasi (1901-2003)","data":{"name":"A2"},
  "encoding":{"x":{"field":"x","type":"ordinal","scale":{"type":"point","padding":0.6},"axis":{"title":null,"labelExpr":"indexof([1901,1911,1921,1931,1941,1951,1961,1971,1981,1991,2001],datum.value)>=0?datum.label:''"}},
   "y":{"field":"v","type":"quantitative","scale":{"domain":[30,34],"nice":false,"zero":false},"axis":{"title":"Temperature(°C)","values":[30,30.5,31,31.5,32,32.5,33,33.5,34],"format":".1f","titlePadding":14,"minExtent":48}}},
  "layer":[
   {"mark":{"type":"line","color":"#000080","strokeWidth":3},"encoding":{}},
   {"mark":{"type":"point","shape":"square","filled":true,"color":"#000080","opacity":1,"size":80}},
   {"data":{"values":[{"x":1901,"v":32.095},{"x":2003,"v":31.993}]},"mark":{"type":"line","color":"#000000","strokeWidth":3},"encoding":{}},
   {"data":{"values":[{"x":1901,"v":33.54,"t":"y = -0.001x + 32.096"},{"x":1912,"v":33.1,"t":"R² = 0.0024"}]},"mark":{"type":"text","align":"left","baseline":"middle","font":"Liberation Serif","fontWeight":"bold","fontSize":20,"color":"#000000"},"encoding":{"text":{"field":"t"}}},
   {"data":{"values":[{"x":1983,"v":30.48,"t":"II"}]},"mark":{"type":"text","align":"center","baseline":"middle","font":"Liberation Sans","fontWeight":"bold","fontSize":20,"color":"#000000"},"encoding":{"text":{"field":"t"}}}
  ]},
 {"width":358,"height":207,"title":"Surat (1901-2004)","data":{"name":"A3"},
  "encoding":{"x":{"field":"x","type":"ordinal","scale":{"type":"point","padding":0.6},"axis":{"title":null,"labelExpr":"indexof([1901,1911,1921,1931,1941,1951,1961,1971,1981,1991,2002],datum.value)>=0?datum.label:''"}},
   "y":{"field":"v","type":"quantitative","scale":{"domain":[31.5,35],"nice":false,"zero":false},"axis":{"title":"Temperature(°C)","values":[31.5,32,32.5,33,33.5,34,34.5,35],"format":".1f","titlePadding":14,"minExtent":48}}},
  "layer":[
   {"mark":{"type":"line","color":"#000080","strokeWidth":1.5},"encoding":{}},
   {"mark":{"type":"point","shape":"diamond","filled":true,"color":"#000080","opacity":1,"size":80}},
   {"data":{"values":[{"x":1901,"v":32.984},{"x":2004,"v":33.756}]},"mark":{"type":"line","color":"#000000","strokeWidth":3},"encoding":{}},
   {"data":{"values":[{"x":1901,"v":34.75,"t":"y = 0.0075x + 32.976"},{"x":1912,"v":34.32,"t":"R² = 0.1302"}]},"mark":{"type":"text","align":"left","baseline":"middle","font":"Liberation Serif","fontWeight":"bold","fontSize":20,"color":"#000000"},"encoding":{"text":{"field":"t"}}},
   {"data":{"values":[{"x":1981,"v":32.0,"t":"III"}]},"mark":{"type":"text","align":"center","baseline":"middle","font":"Liberation Sans","fontWeight":"bold","fontSize":20,"color":"#000000"},"encoding":{"text":{"field":"t"}}}
  ]},
 {"width":358,"height":192,"title":"Indore (1949 - 2000)","data":{"name":"A4"},
  "encoding":{"x":{"field":"x","type":"ordinal","scale":{"type":"point","padding":0.6},"axis":{"title":null,"labelExpr":"indexof([1949,1954,1959,1964,1969,1974,1979,1984,1989,1994,1999],datum.value)>=0?datum.label:''"}},
   "y":{"field":"v","type":"quantitative","scale":{"domain":[30.5,33.5],"nice":false,"zero":false},"axis":{"title":"Temperature (°C)","values":[30.5,31,31.5,32,32.5,33,33.5],"format":".1f","titlePadding":14,"minExtent":48}}},
  "layer":[
   {"mark":{"type":"line","color":"#000080","strokeWidth":1.5},"encoding":{}},
   {"mark":{"type":"point","shape":"diamond","filled":true,"color":"#000080","opacity":1,"size":90}},
   {"data":{"values":[{"x":1949,"v":31.258},{"x":2000,"v":32.538}]},"mark":{"type":"line","color":"#000000","strokeWidth":3},"encoding":{}},
   {"data":{"values":[{"x":1949,"v":33.24,"t":"y = 0.0251x + 31.233"},{"x":1954,"v":32.84,"t":"R² = 0.4097"}]},"mark":{"type":"text","align":"left","baseline":"middle","font":"Liberation Serif","fontWeight":"bold","fontSize":20,"color":"#000000"},"encoding":{"text":{"field":"t"}}},
   {"data":{"values":[{"x":1993,"v":30.84,"t":"IV"}]},"mark":{"type":"text","align":"center","baseline":"middle","font":"Liberation Sans","fontWeight":"bold","fontSize":20,"color":"#000000"},"encoding":{"text":{"field":"t"}}}
  ]},
 {"width":358,"height":195,"title":"Anantapur (1946-2001)","data":{"name":"A5"},
  "encoding":{"x":{"field":"x","type":"ordinal","scale":{"type":"point","padding":0.6},"axis":{"title":null,"ticks":false,"labelPadding":10,"labelExpr":"indexof([1946,1951,1956,1961,1966,1971,1976,1981,1986,1991,1996,2001],datum.value)>=0?datum.label:''"}},
   "y":{"field":"v","type":"quantitative","scale":{"domain":[32,35],"nice":false,"zero":false},"axis":{"title":"Temperature (°C)","values":[32,32.5,33,33.5,34,34.5,35],"format":".1f","titlePadding":14,"minExtent":48}}},
  "layer":[
   {"mark":{"type":"line","color":"#000080","strokeWidth":1.5},"encoding":{}},
   {"mark":{"type":"point","shape":"diamond","filled":true,"color":"#000080","opacity":1,"size":90}},
   {"data":{"values":[{"x":1946,"v":33.189},{"x":2001,"v":34.179}]},"mark":{"type":"line","color":"#000000","strokeWidth":3},"encoding":{}},
   {"data":{"values":[{"x":1952,"v":34.82,"t":"y = 0.018x + 33.171"},{"x":1959,"v":34.42,"t":"R² = 0.3986"}]},"mark":{"type":"text","align":"left","baseline":"middle","font":"Liberation Serif","fontWeight":"bold","fontSize":20,"color":"#000000"},"encoding":{"text":{"field":"t"}}},
   {"data":{"values":[{"x":1998,"v":32.35,"t":"V"}]},"mark":{"type":"text","align":"center","baseline":"middle","font":"Liberation Sans","fontWeight":"bold","fontSize":20,"color":"#000000"},"encoding":{"text":{"field":"t"}}}
  ]}
 ]},
{"title":{"text":"b. Minimum temperature","font":"Open Sans","fontSize":20,"fontWeight":"bold","offset":20,"anchor":"middle"},
 "spacing":17,
 "vconcat":[
 {"width":362,"height":196,"title":"Balasore (1901-2005)","data":{"name":"B1"},
  "encoding":{"x":{"field":"x","type":"ordinal","scale":{"type":"point","padding":0.6},"axis":{"title":null,"labelExpr":"indexof([1901,1911,1921,1931,1941,1951,1961,1971,1981,1991,2000],datum.value)>=0?datum.label:''"}},
   "y":{"field":"v","type":"quantitative","scale":{"domain":[20,23.5],"nice":false,"zero":false},"axis":{"title":null,"values":[20,20.5,21,21.5,22,22.5,23,23.5],"format":".1f","minExtent":71}}},
  "layer":[
   {"mark":{"type":"line","color":"#000080","strokeWidth":1.5},"encoding":{}},
   {"mark":{"type":"point","shape":"diamond","filled":true,"color":"#000080","opacity":1,"size":80}},
   {"data":{"values":[{"x":1901,"v":21.359},{"x":2005,"v":21.952}]},"mark":{"type":"line","color":"#000000","strokeWidth":3},"encoding":{}},
   {"data":{"values":[{"x":1901,"v":23.29,"t":"y = 0.0057x + 21.353"},{"x":1912,"v":22.85,"t":"R² = 0.1358"}]},"mark":{"type":"text","align":"left","baseline":"middle","font":"Liberation Serif","fontWeight":"bold","fontSize":20,"color":"#000000"},"encoding":{"text":{"field":"t"}}},
   {"data":{"values":[{"x":1996,"v":20.4,"t":"I"}]},"mark":{"type":"text","align":"center","baseline":"middle","font":"Liberation Sans","fontWeight":"bold","fontSize":20,"color":"#000000"},"encoding":{"text":{"field":"t"}}}
  ]},
 {"width":362,"height":213,"title":"Jhansi (1901-2004)","data":{"name":"B2"},
  "encoding":{"x":{"field":"x","type":"ordinal","scale":{"type":"point","padding":0.6},"axis":{"title":null,"labelExpr":"indexof([1901,1911,1921,1931,1941,1951,1961,1971,1981,1991,2001],datum.value)>=0?datum.label:''"}},
   "y":{"field":"v","type":"quantitative","scale":{"domain":[15,22],"nice":false,"zero":false},"axis":{"title":null,"values":[15,16,17,18,19,20,21,22],"format":".1f","minExtent":71}}},
  "layer":[
   {"mark":{"type":"line","color":"#000080","strokeWidth":1.5},"encoding":{}},
   {"mark":{"type":"point","shape":"diamond","filled":true,"color":"#000080","opacity":1,"size":80}},
   {"data":{"values":[{"x":1901,"v":20.466},{"x":2004,"v":18.066}]},"mark":{"type":"line","color":"#000000","strokeWidth":3},"encoding":{}},
   {"data":{"values":[{"x":1908,"v":17.13,"t":"y = -0.0233x + 20.489"},{"x":1921,"v":16.24,"t":"R² = 0.3907"}]},"mark":{"type":"text","align":"left","baseline":"middle","font":"Liberation Serif","fontWeight":"bold","fontSize":20,"color":"#000000"},"encoding":{"text":{"field":"t"}}},
   {"data":{"values":[{"x":1996,"v":15.96,"t":"II"}]},"mark":{"type":"text","align":"center","baseline":"middle","font":"Liberation Sans","fontWeight":"bold","fontSize":20,"color":"#000000"},"encoding":{"text":{"field":"t"}}}
  ]},
 {"width":362,"height":207,"title":"Baroda (1933-1993)","data":{"name":"B3"},
  "encoding":{"x":{"field":"x","type":"ordinal","scale":{"type":"point","padding":0.6},"axis":{"title":null,"labelExpr":"indexof([1933,1939,1945,1951,1957,1963,1969,1975,1981,1987,1993],datum.value)>=0?datum.label:''"}},
   "y":{"field":"v","type":"quantitative","scale":{"domain":[18.5,22.5],"nice":false,"zero":false},"axis":{"title":null,"values":[18.5,19,19.5,20,20.5,21,21.5,22,22.5],"format":".1f","minExtent":71}}},
  "layer":[
   {"mark":{"type":"line","color":"#000080","strokeWidth":1.5},"encoding":{}},
   {"mark":{"type":"point","shape":"diamond","filled":true,"color":"#000080","opacity":1,"size":100}},
   {"data":{"values":[{"x":1933,"v":18.976},{"x":1993,"v":21.682}]},"mark":{"type":"line","color":"#000000","strokeWidth":3},"encoding":{}},
   {"data":{"values":[{"x":1936,"v":22.21,"t":"y = 0.0451x + 18.931"},{"x":1943,"v":21.7,"t":"R² = 0.6943"}]},"mark":{"type":"text","align":"left","baseline":"middle","font":"Liberation Serif","fontWeight":"bold","fontSize":20,"color":"#000000"},"encoding":{"text":{"field":"t"}}},
   {"data":{"values":[{"x":1984,"v":19.04,"t":"III"}]},"mark":{"type":"text","align":"center","baseline":"middle","font":"Liberation Sans","fontWeight":"bold","fontSize":20,"color":"#000000"},"encoding":{"text":{"field":"t"}}}
  ]},
 {"width":362,"height":192,"title":"Akola(1901-2002)","data":{"name":"B4"},
  "encoding":{"x":{"field":"x","type":"ordinal","scale":{"type":"point","padding":0.6},"axis":{"title":null,"labelExpr":"indexof([1901,1910,1919,1928,1937,1946,1955,1964,1973,1982,1991,2000],datum.value)>=0?datum.label:''"}},
   "y":{"field":"v","type":"quantitative","scale":{"domain":[18.5,22],"nice":false,"zero":false},"axis":{"title":null,"values":[18.5,19,19.5,20,20.5,21,21.5,22],"format":".1f","minExtent":71}}},
  "layer":[
   {"mark":{"type":"line","color":"#000080","strokeWidth":1.5},"encoding":{}},
   {"mark":{"type":"point","shape":"diamond","filled":true,"color":"#000080","opacity":1,"size":80}},
   {"data":{"values":[{"x":1901,"v":19.635},{"x":2002,"v":21.251}]},"mark":{"type":"line","color":"#000000","strokeWidth":3},"encoding":{}},
   {"data":{"values":[{"x":1912,"v":21.75,"t":"y = 0.016x + 19.619"},{"x":1923,"v":21.32,"t":"R² = 0.4848"}]},"mark":{"type":"text","align":"left","baseline":"middle","font":"Liberation Serif","fontWeight":"bold","fontSize":20,"color":"#000000"},"encoding":{"text":{"field":"t"}}},
   {"data":{"values":[{"x":1993,"v":18.77,"t":"IV"}]},"mark":{"type":"text","align":"center","baseline":"middle","font":"Liberation Sans","fontWeight":"bold","fontSize":20,"color":"#000000"},"encoding":{"text":{"field":"t"}}}
  ]},
 {"width":362,"height":195,"title":"Mahabubnagar (1952-2001)","data":{"name":"B5"},
  "encoding":{"x":{"field":"x","type":"ordinal","scale":{"type":"point","padding":0.6},"axis":{"title":null,"labelExpr":"indexof([1952,1957,1962,1967,1972,1977,1982,1987,1992,1997],datum.value)>=0?datum.label:''"}},
   "y":{"field":"v","type":"quantitative","scale":{"domain":[20,22.5],"nice":false,"zero":false},"axis":{"title":null,"values":[20,20.5,21,21.5,22,22.5],"format":".1f","minExtent":71}}},
  "layer":[
   {"mark":{"type":"line","color":"#000080","strokeWidth":1.5},"encoding":{}},
   {"mark":{"type":"point","shape":"diamond","filled":true,"color":"#000080","opacity":1,"size":100}},
   {"data":{"values":[{"x":1952,"v":20.954},{"x":2001,"v":22.086}]},"mark":{"type":"line","color":"#000000","strokeWidth":3},"encoding":{}},
   {"data":{"values":[{"x":1957,"v":22.27,"t":"y = 0 . 0 2 3 1x + 2 0 . 9 3 1"},{"x":1961,"v":21.99,"t":"R ² = 0 . 4 2 4 8"}]},"mark":{"type":"text","align":"left","baseline":"middle","font":"Liberation Serif","fontWeight":"bold","fontSize":16,"color":"#000000"},"encoding":{"text":{"field":"t"}}},
   {"data":{"values":[{"x":1999,"v":20.13,"t":"V"}]},"mark":{"type":"text","align":"center","baseline":"middle","font":"Liberation Sans","fontWeight":"bold","fontSize":20,"color":"#000000"},"encoding":{"text":{"field":"t"}}}
  ]}
 ]},
{"title":{"text":"c. Average temperature","font":"Open Sans","fontSize":20,"fontWeight":"bold","offset":20,"anchor":"middle"},
 "spacing":17,
 "vconcat":[
 {"width":344,"height":196,"title":"Kolkata (1901-2003)","data":{"name":"C1"},
  "encoding":{"x":{"field":"x","type":"ordinal","scale":{"type":"point","padding":0.6},"axis":{"title":null,"labelExpr":"indexof([1901,1912,1923,1934,1945,1956,1967,1978,1989,2000],datum.value)>=0?datum.label:''"}},
   "y":{"field":"v","type":"quantitative","scale":{"domain":[25,28],"nice":false,"zero":false},"axis":{"title":null,"values":[25,25.5,26,26.5,27,27.5,28],"format":".1f"}}},
  "layer":[
   {"mark":{"type":"line","color":"#000080","strokeWidth":2.5},"encoding":{}},
   {"mark":{"type":"point","shape":"square","filled":true,"color":"#333399","opacity":1,"size":60}},
   {"data":{"values":[{"x":1901,"v":26.155},{"x":2003,"v":27.287}]},"mark":{"type":"line","color":"#000000","strokeWidth":3},"encoding":{}},
   {"data":{"values":[{"x":1901,"v":27.67,"t":"y = 0 . 0 111x + 2 6 . 1 4 4"},{"x":1908,"v":27.35,"t":"R ² = 0 . 5 2 8 3"}]},"mark":{"type":"text","align":"left","baseline":"middle","font":"Liberation Serif","fontWeight":"bold","fontSize":17,"color":"#000000"},"encoding":{"text":{"field":"t"}}},
   {"data":{"values":[{"x":1993,"v":25.35,"t":"I"}]},"mark":{"type":"text","align":"center","baseline":"middle","font":"Liberation Sans","fontWeight":"bold","fontSize":20,"color":"#000000"},"encoding":{"text":{"field":"t"}}}
  ]},
 {"width":344,"height":213,"title":"Bhairach (1901- 2003)","data":{"name":"C2"},
  "encoding":{"x":{"field":"x","type":"ordinal","scale":{"type":"point","padding":0.6},"axis":{"title":null,"labelExpr":"indexof([1901,1911,1921,1931,1941,1951,1961,1971,1981,1991,2003],datum.value)>=0?datum.label:''"}},
   "y":{"field":"v","type":"quantitative","scale":{"domain":[23,27],"nice":false,"zero":false},"axis":{"title":null,"values":[23,23.5,24,24.5,25,25.5,26,26.5,27],"format":".1f"}}},
  "layer":[
   {"mark":{"type":"line","color":"#000080","strokeWidth":1.5},"encoding":{}},
   {"mark":{"type":"point","shape":"circle","filled":true,"color":"#000080","opacity":1,"size":70}},
   {"data":{"values":[{"x":1901,"v":24.831},{"x":2003,"v":25.494}]},"mark":{"type":"line","color":"#000000","strokeWidth":3},"encoding":{}},
   {"data":{"values":[{"x":1906,"v":26.58,"t":"y = 0.0065x + 24.824"},{"x":1918,"v":26.09,"t":"R² = 0.1373"}]},"mark":{"type":"text","align":"left","baseline":"middle","font":"Liberation Serif","fontWeight":"bold","fontSize":20,"color":"#000000"},"encoding":{"text":{"field":"t"}}},
   {"data":{"values":[{"x":1977,"v":23.3,"t":"II"}]},"mark":{"type":"text","align":"center","baseline":"middle","font":"Liberation Sans","fontWeight":"bold","fontSize":20,"color":"#000000"},"encoding":{"text":{"field":"t"}}}
  ]},
 {"width":344,"height":207,"title":"Jodhpur (1901-2006)","data":{"name":"C3"},
  "encoding":{"x":{"field":"x","type":"ordinal","scale":{"type":"point","padding":0.6},"axis":{"title":null,"labelExpr":"indexof([1901,1912,1923,1934,1945,1956,1967,1978,1989,2000],datum.value)>=0?datum.label:''"}},
   "y":{"field":"v","type":"quantitative","scale":{"domain":[25,28.5],"nice":false,"zero":false},"axis":{"title":null,"values":[25,25.5,26,26.5,27,27.5,28,28.5],"format":".1f"}}},
  "layer":[
   {"mark":{"type":"line","color":"#000080","strokeWidth":1.5},"encoding":{}},
   {"mark":{"type":"point","shape":"diamond","filled":true,"color":"#000080","opacity":1,"size":80}},
   {"data":{"values":[{"x":1901,"v":26.666},{"x":2006,"v":26.865}]},"mark":{"type":"line","color":"#000000","strokeWidth":3},"encoding":{}},
   {"data":{"values":[{"x":1908,"v":28.14,"t":"y = 0.0019x + 26.664"},{"x":1922,"v":27.71,"t":"R² = 0.011"}]},"mark":{"type":"text","align":"left","baseline":"middle","font":"Liberation Serif","fontWeight":"bold","fontSize":20,"color":"#000000"},"encoding":{"text":{"field":"t"}}},
   {"data":{"values":[{"x":1963,"v":25.44,"t":"III"}]},"mark":{"type":"text","align":"center","baseline":"middle","font":"Liberation Sans","fontWeight":"bold","fontSize":20,"color":"#000000"},"encoding":{"text":{"field":"t"}}}
  ]},
 {"width":344,"height":192,"title":"Jabalpur(1901-2002)","data":{"name":"C4"},
  "encoding":{"x":{"field":"x","type":"ordinal","scale":{"type":"point","padding":0.6},"axis":{"title":null,"labelExpr":"indexof([1901,1911,1921,1931,1941,1951,1961,1971,1981,1991,2001],datum.value)>=0?datum.label:''"}},
   "y":{"field":"v","type":"quantitative","scale":{"domain":[23,27],"nice":false,"zero":false},"axis":{"title":null,"values":[23,23.5,24,24.5,25,25.5,26,26.5,27],"format":".1f"}}},
  "layer":[
   {"mark":{"type":"line","color":"#000080","strokeWidth":1.5},"encoding":{}},
   {"mark":{"type":"point","shape":"diamond","filled":true,"color":"#000080","opacity":1,"size":80}},
   {"data":{"values":[{"x":1901,"v":24.489},{"x":2002,"v":25.953}]},"mark":{"type":"line","color":"#000000","strokeWidth":3},"encoding":{}},
   {"data":{"values":[{"x":1907,"v":26.55,"t":"y = 0.0145x + 24.474"},{"x":1919,"v":25.98,"t":"R² = 0.5063"}]},"mark":{"type":"text","align":"left","baseline":"middle","font":"Liberation Serif","fontWeight":"bold","fontSize":20,"color":"#000000"},"encoding":{"text":{"field":"t"}}},
   {"data":{"values":[{"x":1990,"v":23.48,"t":"IV"}]},"mark":{"type":"text","align":"center","baseline":"middle","font":"Liberation Sans","fontWeight":"bold","fontSize":20,"color":"#000000"},"encoding":{"text":{"field":"t"}}}
  ]},
 {"width":344,"height":195,"title":"Mysore (1901-2004)","data":{"name":"C5"},
  "encoding":{"x":{"field":"x","type":"ordinal","scale":{"type":"point","padding":0.6},"axis":{"title":null,"labelExpr":"indexof([1901,1911,1921,1931,1941,1951,1961,1971,1981,1991,2001],datum.value)>=0?datum.label:''"}},
   "y":{"field":"v","type":"quantitative","scale":{"domain":[23.5,26],"nice":false,"zero":false},"axis":{"title":null,"values":[23.5,24,24.5,25,25.5,26],"format":".1f"}}},
  "layer":[
   {"mark":{"type":"line","color":"#000080","strokeWidth":1.5},"encoding":{}},
   {"mark":{"type":"point","shape":"diamond","filled":true,"color":"#000080","opacity":1,"size":80}},
   {"data":{"values":[{"x":1901,"v":24.427},{"x":2004,"v":24.54}]},"mark":{"type":"line","color":"#000000","strokeWidth":3},"encoding":{}},
   {"data":{"values":[{"x":1913,"v":25.83,"t":"y = 0.0011x + 24.426"},{"x":1926,"v":25.48,"t":"R² = 0.0084"}]},"mark":{"type":"text","align":"left","baseline":"middle","font":"Liberation Serif","fontWeight":"bold","fontSize":20,"color":"#000000"},"encoding":{"text":{"field":"t"}}},
   {"data":{"values":[{"x":1977,"v":23.73,"t":"V"}]},"mark":{"type":"text","align":"center","baseline":"middle","font":"Liberation Sans","fontWeight":"bold","fontSize":20,"color":"#000000"},"encoding":{"text":{"field":"t"}}}
  ]}
 ]}
],
"config":{
 "view":{"stroke":"#808080","strokeWidth":1},
 "title":{"font":"Liberation Serif","fontSize":20,"fontWeight":"bold","color":"#000000","offset":2},
 "axis":{"labelFont":"Liberation Serif","labelFontSize":20,"labelFontWeight":"bold","labelColor":"#000000","domainColor":"#000000","domainWidth":1.5,"tickColor":"#000000","grid":false,"titleFont":"Liberation Serif","titleFontSize":19,"titleFontWeight":"bold","titleColor":"#000000"},
 "axisX":{"labelAngle":270,"tickSize":6,"labelPadding":4,"labelOverlap":false},
 "axisY":{"tickSize":5,"labelPadding":3}
}
}
